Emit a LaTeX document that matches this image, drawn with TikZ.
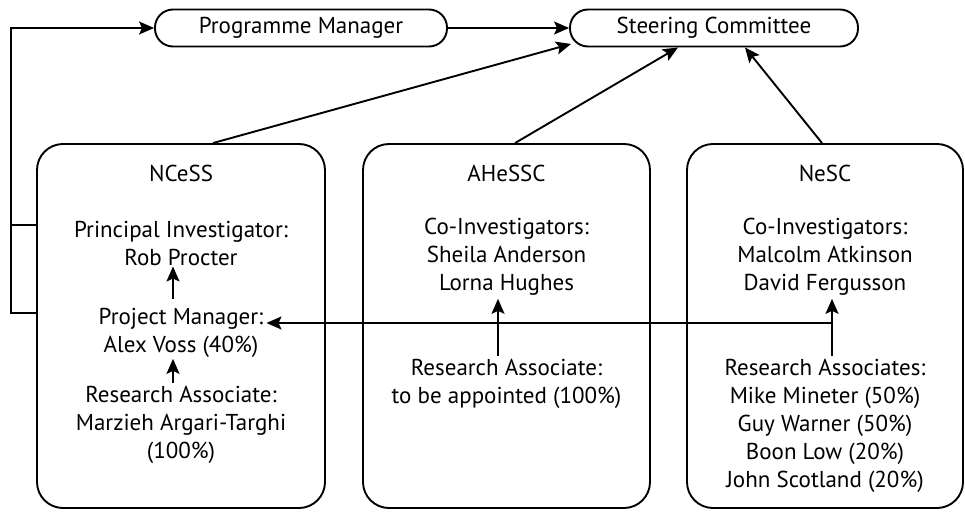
\documentclass[tikz,border=0pt]{standalone}
\usepackage{fontspec}
\setmainfont{PT Sans}
\usetikzlibrary{arrows.meta,calc}

\begin{document}
\begin{tikzpicture}[x=1pt,y=-1pt,
		every node/.style={font=\fontsize{23}{28}\selectfont, align=center, inner sep=3pt}]
		\def \lw {1.9pt}
		\tikzset{
			arr/.style={draw, line width=\lw, -{Stealth[length=15pt,width=13pt,inset=3pt]}},
			pill/.style={draw, line width=\lw, rounded corners=18pt, minimum height=37pt},
			unit/.style={draw, line width=\lw, rounded corners=26pt, minimum height=364pt}
		}
		\useasboundingbox (0,0) rectangle (965,511);
		
		%top row
		\node[pill, minimum width=292pt] (pm) at (301,28) {Programme Manager};
		\node[pill, minimum width=288pt] (sc) at (714,28) {Steering Committee};
		
		%boxes
		\node[unit, minimum width=288pt] (ncess) at (181,326) {};
		\node[unit, minimum width=287pt] (ahessc) at (506.5,326) {};
		\node[unit, minimum width=276pt] (nesc) at (825,326) {};
		
		%NCeSS
		\node (ncessT) at (181,173) {NCeSS};
		\node (pi) at (181,243) {Principal Investigator:\\Rob Procter};
		\node (pmgr) at (181,333) {Project Manager:\\Alex Voss (40\%)};
		\node (ra) at (181,425) {Research Associate:\\Marzieh Argari-Targhi\\(100\%)};
		
		%AHeSSC
		\node (ahessccT) at (506.5,173) {AHeSSC};
		\node (ahCoi) at (506.5,257) {Co-Investigators:\\Sheila Anderson\\Lorna Hughes};
		\node (ahRa) at (506.5,384) {Research Associate:\\to be appointed (100\%)};
		
		%NeSC
		\node (nescT) at (825,173) {NeSC};
		\node (neCoi) at (825,257) {Co-Investigators:\\Malcolm Atkinson\\David Fergusson};
		\node (neRa) at (825,426) {Research Associates:\\Mike Mineter (50\%)\\Guy Warner (50\%)\\Boon Low (20\%)\\John Scotland (20\%)};
		
		%arrows inside the boxes
		\draw[arr, shorten <=6pt, shorten >=-2pt] ([xshift=-8pt]pmgr.north) -- ([xshift=-8pt]pi.south);
		\draw[arr, shorten >=-2pt] ([xshift=-8pt]ra.north) -- ([xshift=-8pt]pmgr.south);
		\draw[arr] ([xshift=-8.5pt]ahRa.north) -- ([xshift=-8.5pt]ahCoi.south);
		\draw[arr] ([xshift=7pt]neRa.north) -- ([xshift=7pt]neCoi.south);
		\coordinate (split) at (832,323);
		\draw[arr] (split) -- (split -| pmgr.east);
		
		%to the steering committee
		\draw[arr] (pm) -- (sc);
		\draw[arr] ([xshift=32pt]ncess.north) -- ([shift={(2pt,3.5pt)}]sc.south west);
		\draw[arr] ([xshift=8.5pt]ahessc.north) -- ([xshift=-36pt]sc.south);
		\draw[arr] ([xshift=-3pt]nesc.north) -- ([xshift=31pt]sc.south);
		
		%loop back to the programme manager
		\draw[arr] ([yshift=13pt]ncess.west) -- ++(-25,0) |- (pm);
		\draw[line width=\lw] ([yshift=101pt]ncess.west) -- ++(-25,0);
\end{tikzpicture}
\end{document}
